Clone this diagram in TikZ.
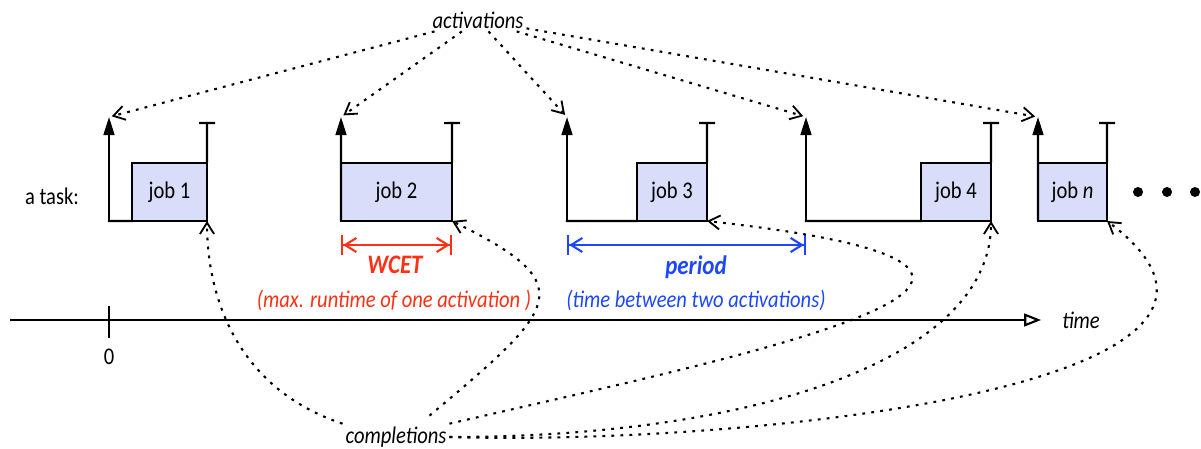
\documentclass[tikz,border=0pt]{standalone}
\usepackage{fontspec}
\setmainfont{Carlito}[FakeStretch=0.86]
\usepackage{tikz}
\usetikzlibrary{arrows.meta, positioning, calc}
\definecolor{jobfill}{RGB}{217,221,250}
\definecolor{wcetred}{RGB}{255,48,20}
\definecolor{periodblue}{RGB}{30,70,255}
\tikzset{
    jobbox/.style={
        rectangle,
        draw=black,
        line width=1.5pt,
        fill=jobfill,
        inner sep=0pt,
        outer sep=0pt,
        minimum height=1.45cm,
        text centered,
        font=\fontsize{17}{20}\selectfont
    },
    plain/.style={
        inner sep=2pt,
        font=\fontsize{17}{20}\selectfont
    },
    annot/.style={
        plain,
        font=\fontsize{17}{20}\selectfont\itshape
    },
    emphannot/.style={
        plain,
        font=\fontsize{19}{22}\selectfont\bfseries\itshape
    },
    idle/.style={
        draw=black,
        line width=1.5pt,
        line cap=rect
    },
    release/.style={
        draw=black,
        line width=1.5pt,
        -{Triangle[length=0.45cm,width=0.27cm]}
    },
    deadline/.style={
        draw=black,
        line width=1.5pt,
        -{Bar[width=0.4cm]}
    },
    pointer/.style={
        draw=black,
        line width=1.5pt,
        dash pattern=on 2pt off 4.4pt,
        -{Straight Barb[length=8pt,width=10pt,line width=1.3pt]}
    },
    interval/.style={
        line width=1.5pt,
        {Bar[width=0.5cm]Straight Barb[length=8pt,width=10pt]}-{Straight Barb[length=8pt,width=10pt]Bar[width=0.5cm]}
    },
    timeaxis/.style={
        draw=black,
        line width=1.5pt,
        -{Triangle[open,length=0.42cm,width=0.32cm]}
    }
}
\begin{document}
\begin{tikzpicture}[x=0.025cm, y=0.025cm]
\useasboundingbox (0,0) rectangle (1201,448);

% Time axis
\coordinate (tstart) at (10,128);
\coordinate (tend) at (1041,128);
\draw[timeaxis] (tstart) -- (tend);
\node[annot] (timelbl) at (1081,128) {time};
\coordinate (ticktop) at (109,141);
\coordinate (tickbot) at (109,111);
\draw[idle] (ticktop) -- (tickbot);
\node[plain] (zero) at (109,91) {0};

% Jobs of the task
\node[plain] (task) at (52,252) {a task:};
\node[jobbox, minimum width=1.875cm] (job1) at (169.5,256) {job 1};
\node[jobbox, minimum width=2.775cm] (job2) at (396.5,256) {job 2};
\node[jobbox, minimum width=1.75cm] (job3) at (672,256) {job 3};
\node[jobbox, minimum width=1.75cm] (job4) at (956,256) {job 4};
\node[jobbox, minimum width=1.725cm] (jobn) at (1072.5,256) {job \textit{n}};

\coordinate (rel1) at (109,227);
\coordinate (rel3) at (567,227);
\coordinate (rel4) at (806,227);
\coordinate (act1) at (109,331);
\coordinate (act2) at (341,331);
\coordinate (act3) at (567,331);
\coordinate (act4) at (806,331);
\coordinate (actn) at (1038,331);

\draw[idle] (rel1) -- (job1.south west);
\draw[idle] (rel3) -- (job3.south west);
\draw[idle] (rel4) -- (job4.south west);

\draw[release] (rel1) -- (act1);
\draw[release] (job2.south west) -- (act2);
\draw[release] (rel3) -- (act3);
\draw[release] (rel4) -- (act4);
\draw[release] (jobn.south west) -- (actn);

% Deadlines
\coordinate (dl1) at (207,326);
\coordinate (dl2) at (452,326);
\coordinate (dl3) at (707,326);
\coordinate (dl4) at (991,326);
\coordinate (dln) at (1107,326);
\draw[deadline] (job1.north east) -- (dl1);
\draw[deadline] (job2.north east) -- (dl2);
\draw[deadline] (job3.north east) -- (dl3);
\draw[deadline] (job4.north east) -- (dl4);
\draw[deadline] (jobn.north east) -- (dln);

\foreach \x in {1138,1167,1195}
    \fill (\x,256) circle (5);

% WCET and period
\coordinate (wcetL) at (341,203);
\coordinate (wcetR) at (452,203);
\draw[interval, wcetred] (wcetL) -- (wcetR);
\node[emphannot, text=wcetred] (wcet) at (395,183) {WCET};
\node[annot, text=wcetred] (wcetnote) at (394,148) {(max. runtime of one activation )};

\coordinate (perL) at (567,203);
\coordinate (perR) at (806,203);
\draw[interval, periodblue] (perL) -- (perR);
\node[emphannot, text=periodblue] (period) at (696,181) {period};
\node[annot, text=periodblue] (pernote) at (696,148) {(time between two activations)};

% Activations
\node[annot] (acts) at (478,428) {activations};
\foreach \a in {act1,act2,act3,act4,actn}
    \draw[pointer, shorten >=2pt] (acts) -- (\a);

% Completions
\node[annot] (comps) at (396,11) {completions};
\draw[pointer] (comps.north west) .. controls +(-105,35) and +(0,-77) .. (job1.south east);
\draw[pointer] ([shift={(-20,8)}]comps.north east) .. controls +(130,109) and +(130,-64) .. (job2.south east);
\draw[pointer] (comps.north east) .. controls +(321,74) and +(450,-50) .. (job3.south east);
\draw[pointer] (comps.east) .. controls +(300,0) and +(0,-140) .. (job4.south east);
\draw[pointer] (comps.east) .. controls +(288,-9) and +(221,-166) .. (jobn.south east);

\end{tikzpicture}
\end{document}
